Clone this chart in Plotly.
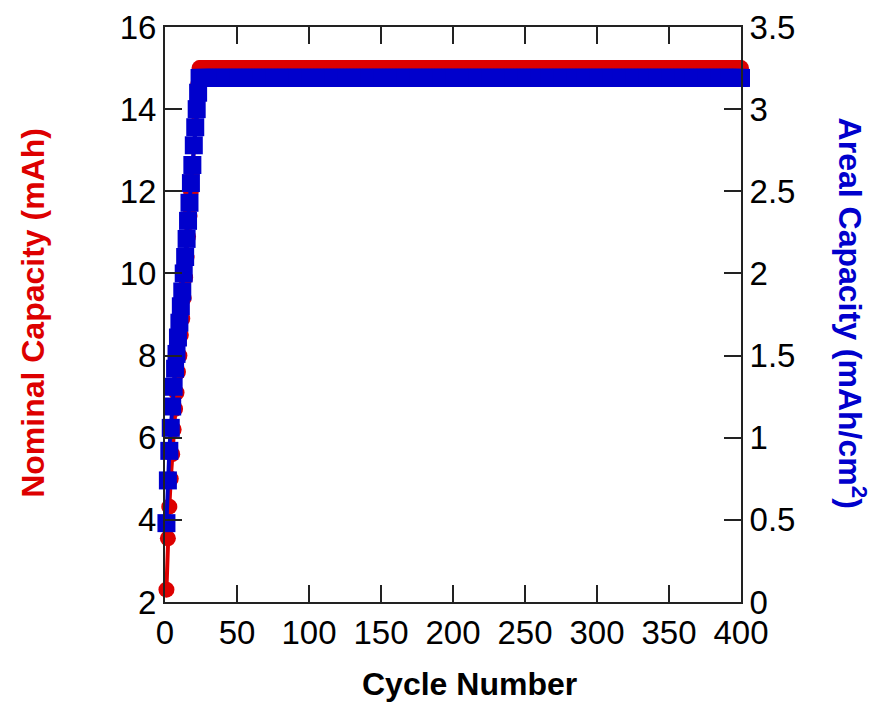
import plotly.graph_objects as go

# Ramp-up cycles
ramp_cycles = list(range(1, 25))
ramp_nominal = [2.3, 3.55, 4.32, 5.0, 5.6, 6.2, 6.7, 7.1, 7.6, 8.0, 8.5, 8.9,
                9.4, 9.9, 10.4, 10.9, 11.4, 12.0, 12.5, 13.1, 13.6, 14.1, 14.6, 15.0]
ramp_areal = [0.48, 0.74, 0.92, 1.06, 1.19, 1.31, 1.42, 1.51, 1.61, 1.70, 1.80, 1.89,
              2.00, 2.10, 2.21, 2.32, 2.43, 2.55, 2.66, 2.78, 2.89, 3.00, 3.10, 3.19]

# Plateau cycles (flat capacity)
plateau_cycles = list(range(25, 401))
plateau_nominal_value = 15.0
plateau_areal_value = 3.19

cycles = ramp_cycles + plateau_cycles
nominal = ramp_nominal + [plateau_nominal_value] * len(plateau_cycles)
areal = ramp_areal + [plateau_areal_value] * len(plateau_cycles)

x_ticks = [0, 50, 100, 150, 200, 250, 300, 350, 400]
y_ticks = [2, 4, 6, 8, 10, 12, 14, 16]
y2_ticks = [0, 0.5, 1, 1.5, 2, 2.5, 3, 3.5]
y2_labels = ["0", "0.5", "1", "1.5", "2", "2.5", "3", "3.5"]

RED = "#DD0000"
BLUE = "#0000CC"
FONT = "Liberation Sans, Arial, sans-serif"

fig = go.Figure()
fig.add_trace(go.Scatter(
    x=cycles, y=nominal, mode="lines+markers", yaxis="y",
    line=dict(color=RED, width=4),
    marker=dict(symbol="circle", size=16, color=RED),
    cliponaxis=False, showlegend=False))
fig.add_trace(go.Scatter(
    x=cycles, y=areal, mode="lines+markers", yaxis="y2",
    line=dict(color=BLUE, width=4),
    marker=dict(symbol="square", size=18, color=BLUE),
    cliponaxis=False, showlegend=False))

axis_common = dict(showgrid=False, zeroline=False, ticks="inside", ticklen=17,
                   tickwidth=1.5, tickcolor="#222", linecolor="#222", linewidth=2,
                   automargin=False,
                   tickfont=dict(family=FONT, size=33, color="black"))

fig.update_layout(
    width=872, height=705,
    margin=dict(l=165, r=131, t=27, b=103),
    paper_bgcolor="white", plot_bgcolor="white",
    xaxis=dict(range=[0, 400], tickvals=x_ticks, showline=True, mirror="ticks", **axis_common),
    yaxis=dict(range=[2, 16], tickvals=y_ticks, showline=True, **axis_common),
    yaxis2=dict(range=[0, 3.5], tickvals=y2_ticks, ticktext=y2_labels, overlaying="y",
                side="right", showline=True, **axis_common),
    annotations=[
        dict(text="<b>Cycle Number</b>", x=0.529, y=-0.143, xref="paper", yref="paper",
             showarrow=False, xanchor="center", yanchor="middle",
             font=dict(family=FONT, size=32, color="black")),
        dict(text="<b>Nominal Capacity (mAh)</b>", x=-0.229, y=0.503, xref="paper", yref="paper",
             showarrow=False, textangle=-90, xanchor="center", yanchor="middle",
             font=dict(family=FONT, size=32, color=RED)),
        dict(text="<b>Areal Capacity (mAh/cm<sup>2</sup>)</b>", x=1.193, y=0.503, xref="paper", yref="paper",
             showarrow=False, textangle=90, xanchor="center", yanchor="middle",
             font=dict(family=FONT, size=32, color=BLUE)),
    ],
)

fig.write_html("out.html")
